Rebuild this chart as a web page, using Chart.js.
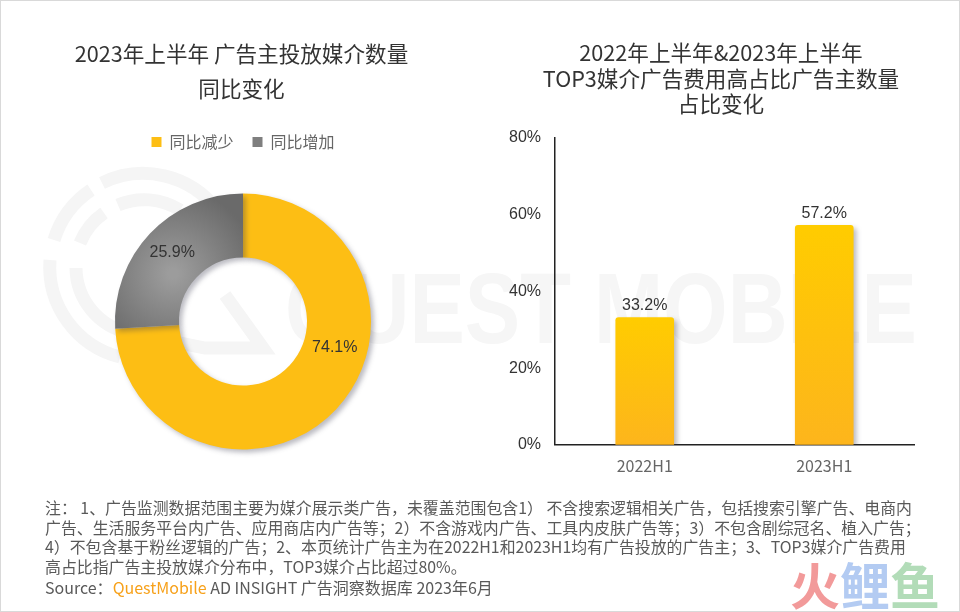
<!DOCTYPE html>
<html>
<head>
<meta charset="utf-8">
<script src="https://cdn.jsdelivr.net/npm/chart.js@4"></script>
<style>
    html, body { margin: 0; padding: 0; background: #fff; }
    #page { position: relative; width: 960px; height: 612px; overflow: hidden; box-sizing: border-box; border: 1px solid #d9d9d9; }
    #page > * { position: absolute; }
    #wmText { left: 284px; top: 250px; font: 700 100px "Liberation Sans", sans-serif; color: #f6f6f6; white-space: nowrap; transform: scaleX(.83); transform-origin: left center; }
    #leftChart { left: -1px; top: -1px; }
    #rightChart { left: 488px; top: -1px; }
    .title { text-align: center; font: 21.6px "Noto Sans CJK SC", sans-serif; color: #333; white-space: nowrap; }
    #leftTitle { left: -1px; width: 483px; top: 34px; line-height: 35px; }
    #rightTitle { left: 520px; width: 400px; top: 38px; line-height: 25.5px; }
    #note { left: 44px; top: 497px; font: 15.9px/19.6px "Noto Sans CJK SC", sans-serif; color: #595959; white-space: nowrap; }
    #source { left: 44px; top: 575px; font: 16px/22px "Noto Sans CJK SC", sans-serif; color: #595959; white-space: nowrap; }
    #source b { font-weight: 400; color: #f7a11a; }
    #logo { left: 789px; top: 553px; font: 700 50px/58px "Noto Sans CJK SC", sans-serif; white-space: nowrap; }
</style>
</head>
<body>
<div id="page">
    <svg width="300" height="260" style="left:29px;top:149px" fill="none" stroke="#f5f5f5" stroke-width="13">
        <path d="M72 33 A93 93 0 0 1 187 60"/>
        <path d="M61 40 A93 93 0 0 0 24 90"/>
        <path d="M20 110 A93 93 0 0 0 90 207"/>
        <path d="M88 55 A67 67 0 0 1 150 60"/>
        <path d="M74 63 A67 67 0 0 0 50 93"/>
        <path d="M46 118 A67 67 0 0 0 100 183 L175 198 L233 198 L195 145"/>
    </svg>
    <div id="wmText">QUEST MOBILE</div>
    <canvas id="leftChart"></canvas>
    <canvas id="rightChart"></canvas>
    <div id="leftTitle" class="title"></div>
    <div id="rightTitle" class="title"></div>
    <div id="note">注： 1、广告监测数据范围主要为媒介展示类广告，未覆盖范围包含1） 不含搜索逻辑相关广告，包括搜索引擎广告、电商内<br>广告、生活服务平台内广告、应用商店内广告等；2）不含游戏内广告、工具内皮肤广告等；3）不包含剧综冠名、植入广告；<br>4）不包含基于粉丝逻辑的广告；2、本页统计广告主为在2022H1和2023H1均有广告投放的广告主；3、TOP3媒介广告费用<br>高占比指广告主投放媒介分布中，TOP3媒介占比超过80%。</div>
    <div id="source">Source：<b>QuestMobile</b> AD INSIGHT 广告洞察数据库 2023年6月</div>
    <div id="logo"><span style="color:#f29a9a">火</span><span style="color:#b3cbf2">鲤</span><span style="color:#b2dcb8">鱼</span></div>
</div>
<script>
const donutTitle = ['2023年上半年 广告主投放媒介数量', '同比变化'];
const donutLabels = ['同比减少', '同比增加'];
const donutValues = [74.1, 25.9];
const legendColors = ['#fdbe14', '#7f7f7f'];

const barTitle = ['2022年上半年&2023年上半年', 'TOP3媒介广告费用高占比广告主数量', '占比变化'];
const barLabels = ['2022H1', '2023H1'];
const barValues = [33.2, 57.2];
const yTicks = [0, 20, 40, 60, 80];

const cjk = '"Noto Sans CJK SC", sans-serif';
const latin = '"Liberation Sans", sans-serif';

document.getElementById('leftTitle').innerHTML = donutTitle.join('<br>');
document.getElementById('rightTitle').innerHTML = barTitle.join('<br>').replace('&', '&amp;');

// soft drop shadow under the marks, both charts use it
const shadowPlugin = {
    id: 'softShadow',
    beforeDatasetDraw(chart) {
        const ctx = chart.ctx;
        ctx.save();
        ctx.shadowColor = 'rgba(60,60,80,.35)';
        ctx.shadowBlur = 5;
        ctx.shadowOffsetX = 3;
        ctx.shadowOffsetY = 3;
    },
    afterDatasetDraw(chart) {
        chart.ctx.restore();
    }
};

const donutLabelPlugin = {
    id: 'donutValues',
    afterDatasetsDraw(chart) {
        const ctx = chart.ctx;
        ctx.save();
        ctx.font = '16px ' + latin;
        ctx.fillStyle = '#333';
        ctx.textAlign = 'center';
        ctx.textBaseline = 'middle';
        chart.getDatasetMeta(0).data.forEach(function(arc, i) {
            const p = arc.tooltipPosition();
            // the 74.1% label sits higher up the ring than the slice middle
            const dx = i == 0 ? 22 : -1;
            const dy = i == 0 ? -40 : -3;
            ctx.fillText(donutValues[i].toFixed(1) + '%', p.x + dx, p.y + dy);
        });
        ctx.restore();
    }
};

const barLabelPlugin = {
    id: 'barValues',
    afterDatasetsDraw(chart) {
        const ctx = chart.ctx;
        ctx.save();
        ctx.font = '16px ' + latin;
        ctx.fillStyle = '#333';
        ctx.textAlign = 'center';
        ctx.textBaseline = 'bottom';
        chart.getDatasetMeta(0).data.forEach(function(bar, i) {
            ctx.fillText(barValues[i].toFixed(1) + '%', bar.x, bar.y - 4);
        });
        ctx.restore();
    }
};

function donutColor(context) {
    const area = context.chart.chartArea;
    if (context.dataIndex == 0 || !area) {
        return legendColors[context.dataIndex];
    }
    const cx = (area.left + area.right) / 2;
    const cy = (area.top + area.bottom) / 2;
    const g = context.chart.ctx.createRadialGradient(cx - 70, cy - 48, 5, cx - 70, cy - 48, 85);
    g.addColorStop(0, '#9c9c9c');
    g.addColorStop(1, '#6a6a6a');
    return g;
}

function barColor(context) {
    const chart = context.chart;
    const area = chart.chartArea;
    if (!area) {
        return '#fdbe14';
    }
    const top = chart.scales.y.getPixelForValue(barValues[context.dataIndex]);
    const g = chart.ctx.createLinearGradient(0, top, 0, area.bottom);
    g.addColorStop(0, '#ffcc00');
    g.addColorStop(1, '#fdb51c');
    return g;
}

function setSize(id, w, h) {
    const el = document.getElementById(id);
    el.style.width = w + 'px';
    el.style.height = h + 'px';
    el.width = w;
    el.height = h;
    return el.getContext('2d');
}

new Chart(setSize('leftChart', 480, 490), {
    type: 'doughnut',
    data: {
        labels: donutLabels,
        datasets: [{
            data: donutValues,
            backgroundColor: donutColor,
            borderWidth: 0
        }]
    },
    plugins: [shadowPlugin, donutLabelPlugin],
    options: {
        responsive: false,
        animation: false,
        radius: 128,
        cutout: '50%',
        layout: { padding: { left: 6, top: 115, bottom: 7 } },
        plugins: {
            tooltip: { enabled: false },
            legend: {
                fullSize: false,
                position: 'top',
                labels: {
                    boxWidth: 10,
                    boxHeight: 10,
                    padding: 19,
                    color: '#666',
                    font: { family: cjk, size: 16 },
                    generateLabels: function() {
                        return donutLabels.map(function(text, i) {
                            return { text: text, fillStyle: legendColors[i], strokeStyle: legendColors[i], lineWidth: 0, index: i, fontColor: '#666' };
                        });
                    }
                }
            }
        }
    }
});

new Chart(setSize('rightChart', 470, 500), {
    type: 'bar',
    data: {
        labels: barLabels,
        datasets: [{
            data: barValues,
            backgroundColor: barColor,
            barThickness: 58,
            borderRadius: { topLeft: 3, topRight: 3 },
            borderSkipped: 'bottom'
        }]
    },
    plugins: [shadowPlugin, barLabelPlugin],
    options: {
        responsive: false,
        animation: false,
        layout: { padding: { top: 138, right: 45, bottom: 20 } },
        plugins: {
            legend: { display: false },
            tooltip: { enabled: false }
        },
        scales: {
            x: {
                grid: { display: false },
                border: { color: '#222', width: 1.5 },
                ticks: { color: '#666', padding: 4, font: { family: cjk, size: 16 } }
            },
            y: {
                min: 0,
                max: 80,
                afterFit: function(scale) { scale.width = 66; },
                afterBuildTicks: function(scale) {
                    scale.ticks = yTicks.map(function(v) { return { value: v }; });
                },
                grid: { display: false, drawTicks: false },
                border: { color: '#222', width: 1.5 },
                ticks: {
                    color: '#333',
                    padding: 14,
                    font: { family: latin, size: 16 },
                    callback: function(v) { return v + '%'; }
                }
            }
        }
    }
});
</script>
</body>
</html>
